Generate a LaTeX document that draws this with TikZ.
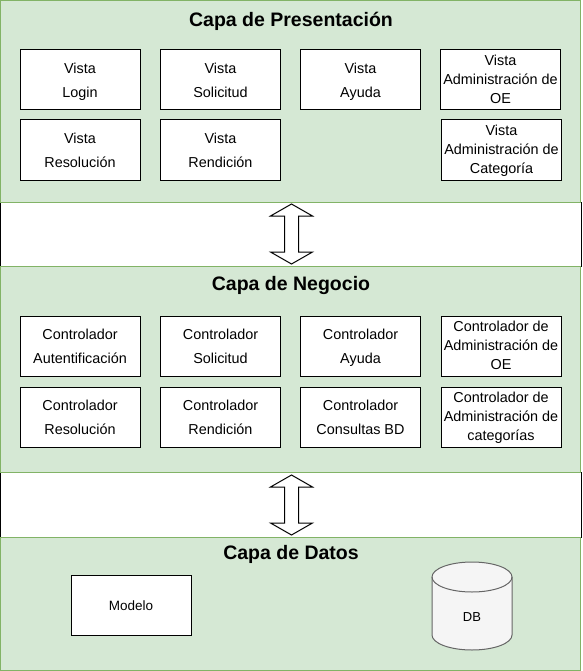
\documentclass[tikz,border=0pt]{standalone}
\usepackage{fontspec}
\setmainfont{Liberation Sans}
\usepackage{xcolor}
\definecolor{capafill}{HTML}{D5E8D4}
\definecolor{capaline}{HTML}{82B366}
\definecolor{dbfill}{HTML}{F5F5F5}
\definecolor{dbline}{HTML}{666666}

\begin{document}
\begin{tikzpicture}[
            x = 1pt, y = -1pt, % pixel units, y grows downwards
            line width = 1pt, % line style
            capa/.style = {draw=capaline, fill=capafill},
            banda/.style = {draw=black, fill=white},
            flecha/.style = {draw=black, fill=white},
            titulo/.style = {font=\fontsize{19.5}{22}\selectfont\bfseries},
            cajabase/.style = {shape=rectangle, draw=black, fill=white, minimum width=120, minimum height=60, inner sep=0pt, align=center},
            caja/.style = {cajabase, font=\fontsize{14.4}{24}\selectfont, text depth=0pt},
            cajatres/.style = {cajabase, font=\fontsize{14.4}{19}\selectfont, text depth=1.4pt},
            cajauna/.style = {cajabase, font=\fontsize{13.5}{16}\selectfont}
        ]
\useasboundingbox (0,0) rectangle (582,671);

% bands between the layers
\draw[banda] (0.5,202) rectangle (581.5,266);
\draw[banda] (0.5,472) rectangle (581.5,537);

% layers
\draw[capa] (0.5,0.5) rectangle (580.5,202);
\draw[capa] (0.5,266) rectangle (580.5,472);
\draw[capa] (0.5,537) rectangle (580.5,670.5);

\node[titulo] (tpres) at (291,21) {Capa de Presentación};
\node[titulo] (tneg) at (291,285) {Capa de Negocio};
\node[titulo] (tdat) at (291,554) {Capa de Datos};

\node[caja] (vlogin) at (80,80) {Vista\\Login};
\node[caja] (vsolicitud) at (220.5,80) {Vista\\Solicitud};
\node[caja] (vayuda) at (360.5,80) {Vista\\Ayuda};
\node[cajatres] (vadmoe) at (500.5,80) {Vista\\Administración de\\OE};
\node[caja] (vresolucion) at (80,150) {Vista\\Resolución};
\node[caja] (vrendicion) at (220.5,150) {Vista\\Rendición};
\node[cajatres] (vadmcat) at (501.5,150) {Vista\\Administración de\\Categoría};

\node[caja] (cautent) at (80,346) {Controlador\\Autentificación};
\node[caja] (csolicitud) at (220.5,346) {Controlador\\Solicitud};
\node[caja] (cayuda) at (360.5,346) {Controlador\\Ayuda};
\node[cajatres] (cadmoe) at (501,346) {Controlador de\\Administración de\\OE};
\node[caja] (cresolucion) at (80,417) {Controlador\\Resolución};
\node[caja] (crendicion) at (220.5,417) {Controlador\\Rendición};
\node[caja] (cconsultas) at (360.5,417) {Controlador\\Consultas BD};
\node[cajatres] (cadmcat) at (501,417) {Controlador de\\Administración de\\categorías};

\node[cajauna] (modelo) at (131,605.5) {Modelo};

% database cylinder
\draw[draw=dbline, fill=dbfill] (432,577) -- (432,635) arc[start angle=180, end angle=360, x radius=40pt, y radius=15pt] -- (512,577) arc[start angle=0, end angle=180, x radius=40pt, y radius=15pt] -- cycle;
\draw[draw=dbline] (432,577) arc[start angle=180, end angle=360, x radius=40pt, y radius=15pt];
\node[font=\fontsize{13}{16}\selectfont] (db) at (472,617) {DB};

% double arrows between layers
\coordinate (f1) at (291.5,234);
\coordinate (f2) at (291.5,505);
\draw[flecha] (f1) ++(0,-30) -- ++(21,12) -- ++(-14,0) -- ++(0,36) -- ++(14,0) -- ++(-21,12) -- ++(-21,-12) -- ++(14,0) -- ++(0,-36) -- ++(-14,0) -- cycle;
\draw[flecha] (f2) ++(0,-30) -- ++(21,12) -- ++(-14,0) -- ++(0,36) -- ++(14,0) -- ++(-21,12) -- ++(-21,-12) -- ++(14,0) -- ++(0,-36) -- ++(-14,0) -- cycle;

\end{tikzpicture}
\end{document}
